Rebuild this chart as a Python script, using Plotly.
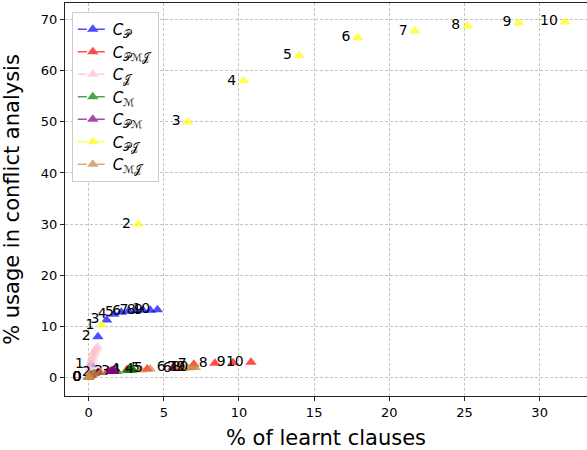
import plotly.graph_objects as go

names = ["<i>C</i><sub>𝒫</sub>", "<i>C</i><sub>𝒫ℳ𝒥</sub>", "<i>C</i><sub>𝒥</sub>", "<i>C</i><sub>ℳ</sub>",
         "<i>C</i><sub>𝒫ℳ</sub>", "<i>C</i><sub>𝒫𝒥</sub>", "<i>C</i><sub>ℳ𝒥</sub>"]
colors = ["blue", "red", "pink", "green", "purple", "yellow", "peru"]

x_P = [0, 0.17, 0.62, 1.2, 1.68, 2.17, 2.65, 3.13, 3.61, 4.1, 4.58]
y_P = [0, 2.4, 7.9, 11.2, 12.3, 12.7, 12.9, 13.0, 13.1, 13.1, 13.2]
t_P = ["0", "1", "2", "3", "4", "5", "6", "7", "8", "9", "10"]

x_PMJ = [0, 0.25, 0.6, 1.3, 2.55, 3.9, 5.6, 7.0, 8.4, 9.6, 10.8]
y_PMJ = [0, 0.6, 0.9, 1.2, 1.5, 1.6, 1.9, 2.5, 2.7, 2.8, 2.9]
t_PMJ = ["0", "", "", "", "4", "5", "6", "7", "8", "9", "10"]

x_J = [0, 0.05, 0.1, 0.15, 0.2, 0.25, 0.3, 0.35, 0.4, 0.5, 0.6]
y_J = [0, 1.0, 1.8, 2.5, 3.1, 3.7, 4.2, 4.7, 5.1, 5.5, 5.9]
t_J = ["", "", "", "", "", "", "", "", "", "", ""]

x_M = [0, 0.1, 0.4, 1.9, 2.6, 2.7, 2.75, 2.8, 2.85, 2.9, 2.95]
y_M = [0, 0.3, 0.7, 1.1, 1.3, 1.35, 1.4, 1.4, 1.45, 1.45, 1.5]
t_M = ["0", "", "", "3", "4", "", "", "", "", "", ""]

x_PM = [0, 0.15, 0.64, 1.43, 1.5, 1.55, 1.6, 1.62, 1.64, 1.66, 1.68]
y_PM = [0, 0.4, 0.9, 1.1, 1.15, 1.2, 1.2, 1.25, 1.25, 1.3, 1.3]
t_PM = ["0", "", "2", "3", "", "", "", "", "", "", ""]

x_PJ = [0, 0.87, 3.3, 6.6, 10.3, 14.0, 17.9, 21.7, 25.2, 28.6, 31.7]
y_PJ = [0, 10.2, 30.0, 50.0, 58.0, 63.0, 66.5, 67.8, 68.8, 69.4, 69.6]
t_PJ = ["0", "1", "2", "3", "4", "5", "6", "7", "8", "9", "10"]

x_MJ = [0, 0.1, 0.35, 0.8, 3.5, 4.1, 6.0, 6.3, 6.6, 6.9, 7.1]
y_MJ = [0, 0.2, 0.6, 0.9, 1.4, 1.6, 1.7, 1.8, 1.8, 1.9, 1.9]
t_MJ = ["0", "", "", "", "4", "5", "6", "7", "8", "9", "10"]

series = [(x_P, y_P, t_P), (x_PMJ, y_PMJ, t_PMJ), (x_J, y_J, t_J), (x_M, y_M, t_M),
          (x_PM, y_PM, t_PM), (x_PJ, y_PJ, t_PJ), (x_MJ, y_MJ, t_MJ)]

x_ticks = [0, 5, 10, 15, 20, 25, 30]
y_ticks = [0, 10, 20, 30, 40, 50, 60, 70]

fig = go.Figure()
for (xs, ys, ts), name, col in zip(series, names, colors):
    fig.add_trace(go.Scatter(
        x=xs, y=ys, text=ts, mode="markers+text", textposition="middle left",
        textfont=dict(family="DejaVu Sans", size=14, color="black"),
        marker=dict(symbol="triangle-up", size=10, color=col, opacity=0.7, line=dict(width=0)),
        showlegend=False, cliponaxis=False))
for name, col in zip(names, colors):
    fig.add_trace(go.Scatter(
        x=[None], y=[None], mode="lines+markers", name=name,
        line=dict(color=col, dash="dash", width=1.5),
        marker=dict(symbol="triangle-up", size=10, color=col), opacity=0.7))

grid = dict(showgrid=True, gridcolor="#c4c4c4", griddash="3px,2px", gridwidth=0.8,
            zeroline=False, tickfont=dict(size=13), automargin=False,
            linecolor="#222", linewidth=1.2, ticks="outside", ticklen=4, tickcolor="#222",
            showline=True)

fig.update_layout(
    width=587, height=450,
    margin=dict(l=65, r=0, t=3, b=54),
    paper_bgcolor="white", plot_bgcolor="white",
    font=dict(family="DejaVu Sans", color="black"),
    legend=dict(x=0.013, y=0.977, xanchor="left", yanchor="top",
                bgcolor="white", bordercolor="#cccccc", borderwidth=1,
                font=dict(size=15, family="DejaVu Sans"), tracegroupgap=0),
    xaxis=dict(range=[-1.57, 33.15], tickvals=x_ticks, mirror=True,
               title=dict(text="% of learnt clauses", font=dict(size=21)), **grid),
    yaxis=dict(range=[-3.7, 73.3], tickvals=y_ticks, mirror=False,
               title=dict(text="% usage in conflict analysis", font=dict(size=21)), **grid),
)

fig.write_html("out.html", config={"displayModeBar": False},
               post_script="document.body.style.margin='0';")
